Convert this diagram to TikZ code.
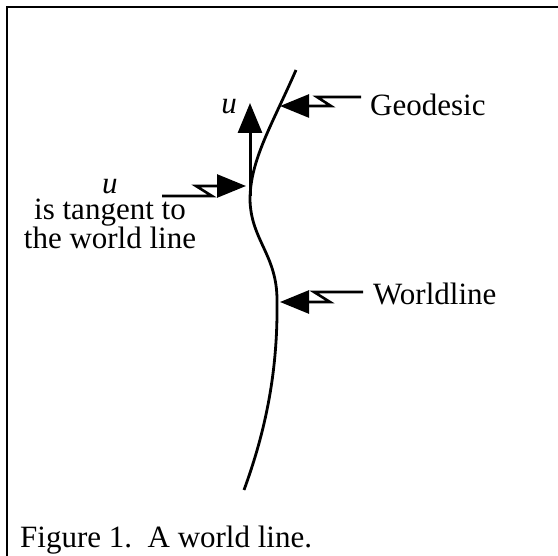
\documentclass[tikz,border=0pt]{standalone}
\usepackage{fontspec}
\setmainfont{Liberation Serif}
\usetikzlibrary{arrows.meta}
\tikzset{
  % Text labels, Times-like at figure size.
  label-text/.style={font=\fontsize{31}{26.5}\selectfont, inner sep=0pt},
  % The world line itself.
  curve/.style={line width=2.8pt},
  % Page frame round the figure.
  frame/.style={line width=2.4pt},
  % Zig-zag pointers from a label to the curve.
  bolt/.style={
    -{Triangle[length=29pt, width=23pt]},
    line width=2.6pt, line join=miter,
  },
  % Tangent vector.
  vector/.style={
    -{Triangle[length=30pt, width=24pt]},
    line width=3pt,
  },
}

\begin{document}
\begin{tikzpicture}[x=1pt, y=-1pt]
  \useasboundingbox (0,0) rectangle (558,556);

  % Frame (only top and left edges are on the page).
  \draw[frame] (7,556) -- (7,7) -- (558,7);

  % World line.
  \draw[curve] (296,70) .. controls (272,125) and (250,160) .. (250,200)
    .. controls (251,240) and (277,255) .. (277,300)
    .. controls (278,370) and (266,430) .. (244,490);

  % Points on the curve that the pointers reach.
  \coordinate (geo-tip) at (280,106);
  \coordinate (wl-tip)  at (280,302);
  \coordinate (tan-tip) at (246,186);
  \coordinate (u-foot)  at (250,196);
  \coordinate (u-head)  at (250,103);

  % Labels.
  \node[label-text, anchor=base west] (geo) at (370,116) {Geodesic};
  \node[label-text, anchor=base west] (wl) at (373,305) {Worldline};
  \node[label-text, anchor=base, align=center] (tan) at (110,249)
    {\textit{u}\\is tangent to\\the world line};
  \node[label-text, anchor=base] (ulab) at (229,114) {\textit{u}};
  \node[label-text, anchor=base west] (cap) at (20,548)
    {Figure 1.\ \ A world line.};

  % Tails of the pointers.
  \coordinate (geo-tail) at (361,97);
  \coordinate (wl-tail)  at (363,292);
  \coordinate (tan-tail) at (162,196);

  % Pointers.
  \draw[bolt] (geo-tail) -- ++(-44,0) -- ++(14,9) -- (geo-tip);
  \draw[bolt] (wl-tail) -- ++(-49,0) -- ++(16,10) -- (wl-tip);
  \draw[bolt] (tan-tail) -- ++(50,0) -- ++(-16,-10) -- (tan-tip);

  % Tangent vector u.
  \draw[vector] (u-foot) -- (u-head);

\end{tikzpicture}
\end{document}
